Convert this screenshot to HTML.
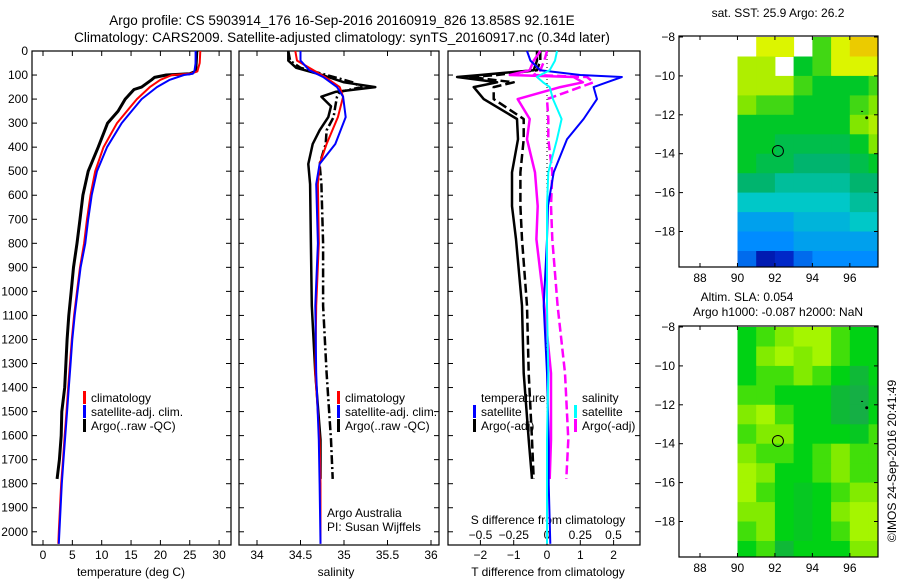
<!DOCTYPE html>
<html><head><meta charset="utf-8"><style>
html,body{margin:0;padding:0;background:#fff;}
svg{display:block;font-family:"Liberation Sans",sans-serif;}
</style></head><body>
<svg id="fig" width="900" height="580" viewBox="0 0 900 580" xmlns="http://www.w3.org/2000/svg">
<text x="342" y="25" font-size="13.5" text-anchor="middle">Argo profile: CS 5903914_176 16-Sep-2016 20160919_826 13.858S 92.161E</text>
<text x="342" y="42" font-size="13.5" text-anchor="middle">Climatology: CARS2009. Satellite-adjusted climatology: synTS_20160917.nc (0.34d later)</text>
<text x="778" y="17" font-size="12" text-anchor="middle">sat. SST: 25.9 Argo: 26.2</text>
<text x="747" y="301" font-size="12" text-anchor="middle">Altim. SLA: 0.054</text>
<text x="778" y="316" font-size="12" text-anchor="middle">Argo h1000: -0.087 h2000: NaN</text>
<text transform="translate(896,461) rotate(-90)" font-size="12" text-anchor="middle">©IMOS 24-Sep-2016 20:41:49</text>
<g id="g"></g>
</svg>
<script>
// ---- temperature panel data ----
const tClimDepth = [0,50,85,95,100,120,150,200,250,300,400,500,600,700,800,900,1000,1100,1200,1300,1400,1500,1600,1700,1800,1900,2000,2050];
const tClim = [26.8,26.7,26.3,25,22,20,18.2,16,14.3,12.6,10.3,8.9,8.1,7.5,7,6.3,5.8,5.3,4.9,4.6,4.3,4.0,3.7,3.4,3.1,2.9,2.7,2.6];
const tSat = [26,26,25.8,25.5,24,21.6,19.4,16.8,15.1,13.4,10.9,9.2,8.3,7.7,7.2,6.4,5.9,5.4,5.0,4.7,4.4,4.1,3.8,3.5,3.2,3.0,2.8,2.7];
const tArgoDepth = [0,50,85,95,100,110,120,150,160,200,250,300,400,500,600,700,800,900,1000,1100,1200,1300,1400,1500,1600,1700,1780];
const tArgo = [26.2,26.1,26,25,21,19,18.5,16.8,15.5,14,12.8,11,9.4,7.7,6.8,6.3,5.8,5.2,4.8,4.4,4.1,3.9,3.7,3.2,3.1,2.8,2.4];
// ---- salinity panel data ----
const sClimDepth = [0,40,80,108,150,190,275,387,470,554,800,1060,1340,1617,1800,2050];
const sClim = [34.44,34.46,34.65,34.78,34.95,34.99,34.93,34.8,34.72,34.7,34.71,34.68,34.67,34.72,34.73,34.73];
const sSat = [34.5,34.5,34.6,34.76,34.92,34.99,35.02,34.9,34.72,34.68,34.7,34.67,34.68,34.71,34.72,34.73];
const sArgoDepth = [0,40,70,100,130,150,170,190,230,275,330,387,470,554,800,1060,1340,1617,1780];
const sArgo = [34.36,34.36,34.45,34.75,35.0,35.36,34.9,34.74,34.85,34.82,34.72,34.64,34.59,34.61,34.62,34.63,34.67,34.73,34.73];
const sArgoQC = [34.36,34.38,34.5,34.8,35.1,35.2,34.95,34.92,34.9,34.88,34.8,34.79,34.72,34.74,34.76,34.76,34.8,34.85,34.87];
// ---- difference panel data ----
const dSatDepth = [0,40,80,100,108,130,150,200,283,367,505,645,783,1060,1340,1617,1800,2050];
const dTsat = [-0.6,-0.5,-0.2,1.0,2.25,1.8,1.4,1.5,1.1,0.6,0.2,0.03,0.0,-0.1,0.0,0.05,0.05,0.1];
const dSsat = [0.075,0.06,0.02,-0.05,-0.075,-0.03,0.02,0.045,0.11,0.075,0.01,0.0,0.0,0.0,0.01,0.0,0.0,0.0];
const dArgoDepth = [0,40,80,100,108,130,150,200,283,367,505,645,783,1060,1340,1617,1780];
const dTargo = [-0.3,-0.3,-0.4,-2.0,-2.7,-1.5,-2.2,-1.9,-0.9,-0.87,-1.05,-1.05,-0.93,-0.75,-0.7,-0.55,-0.45];
const dTargoAdj = [-0.2,-0.2,-0.3,-1.5,-2.3,-1.0,-1.6,-1.6,-0.7,-0.7,-0.8,-0.8,-0.75,-0.6,-0.55,-0.45,-0.4];
const dSargo = [-0.05,-0.1,-0.13,-0.28,0.2,0.27,0.1,-0.22,-0.13,-0.15,-0.09,-0.07,-0.08,-0.02,0.03,0.03,0.02];
const dSargoAdj = [0.0,-0.02,-0.05,-0.1,0.3,0.35,0.25,0.0,0.01,0.01,0.04,0.03,0.04,0.08,0.135,0.16,0.145];
// ---- ticks ----
const depthTicks = [0,100,200,300,400,500,600,700,800,900,1000,1100,1200,1300,1400,1500,1600,1700,1800,1900,2000];
const tempTicks = [0,5,10,15,20,25,30];
const salTicks = [34,34.5,35,35.5,36];
const dTTicks = [-2,-1,0,1,2];
const dSTicks = [-0.5,-0.25,0,0.25,0.5];
const lonTicks = [88,90,92,94,96];
const latTicks = [-8,-10,-12,-14,-16,-18];
// ---- maps (1-degree cells, lon 90..97.5, lat -8..-19.85) ----
const mapLonStarts = [90,91,92,93,94,95,96,97];
const mapLatStarts = [-8,-9,-10,-11,-12,-13,-14,-15,-16,-17,-18,-19];
const sstGrid = [
 [null,8.5,8.5,null,7,8.5,9,9],
 [8,8,null,6.5,7,8.5,8.5,8.5],
 [8,8,8,7,6.5,6.5,6.5,7],
 [7.5,7,7,6.5,6.5,6.5,7,7.5],
 [6.5,6.5,6.5,6.5,6.5,6.5,7.5,8],
 [6.5,6.5,6,6,6,6,6.5,7.5],
 [6.5,6,6,5.5,5.5,5.5,6,6.5],
 [5.5,5.5,5,5,5,5,5.5,5.5],
 [4.5,4.5,4.5,4.5,4.5,4.5,5,5],
 [3.5,3.5,3.5,4,4,4,4.5,4.5],
 [3,3,3,3.5,3.5,3.5,3.5,3.5],
 [2.5,1,1.5,2.5,3,3,3,3]];
const slaGrid = [
 [1,1.5,2,2.5,2.5,1.5,1,1],
 [1,2,2.5,2,2.5,1.5,1,1],
 [1,1.5,1.5,2,1.5,1,0.5,1],
 [1.5,1.5,1,1,1,0.5,0.3,0.8],
 [2,2.5,1.5,1,1,0.5,0.3,1],
 [1.5,2,2,1,1,1,0.8,1.5],
 [2,1.5,1.5,1,1.5,2,1.5,1.5],
 [2.5,2,1,1,1.5,2,1.5,1.5],
 [2.5,1.5,1,0.8,1,1.5,2,2],
 [2,2,1,0.8,1,2,2.5,2.5],
 [1.5,2,1,0.8,1,1.5,2.5,2.5],
 [1,1.5,0.5,1,1,1,2,2]];
const argoLon = 92.161, argoLat = -13.858;

const NS="http://www.w3.org/2000/svg";
const G=document.getElementById('g');
function mk(tag,attrs,parent){const e=document.createElementNS(NS,tag);for(const k in attrs)e.setAttribute(k,attrs[k]);(parent||G).appendChild(e);return e;}
function txt(x,y,s,size,anchor,parent){const e=mk('text',{x:x,y:y,'font-size':size,'text-anchor':anchor||'middle'},parent);e.textContent=s;return e;}

const PT=51, PB=545, DMAX=2055;
const yD=d=>PT+(PB-PT)*d/DMAX;
function panel(x0,x1,name){
  const r=mk('rect',{x:x0,y:PT,width:x1-x0,height:PB-PT,fill:'none',stroke:'#000','stroke-width':1.2});
  
  
  for(const d of depthTicks){mk('line',{x1:x0,x2:x0+5,y1:yD(d),y2:yD(d),stroke:'#000'});mk('line',{x1:x1-5,x2:x1,y1:yD(d),y2:yD(d),stroke:'#000'});}
}
function line(xs,ds,xf,color,w,dash,name){
  let p='';for(let i=0;i<xs.length;i++)p+=(i?'L':'M')+xf(xs[i]).toFixed(1)+' '+yD(ds[i]).toFixed(1);
  const e=mk('path',{d:p,fill:'none',stroke:color,'stroke-width':w,'stroke-linejoin':'round'});
  if(dash)e.setAttribute('stroke-dasharray',dash);
  
  
}
function legend(x,y,color,label,name){
  mk('rect',{x:x,y:y-11,width:3,height:13,fill:color});
  const t=txt(x+8,y,label,12,'start');
  
  
}

// Panel 1: temperature
const xT=t=>43+5.87*t;
panel(32,231,'temperature-panel');
for(const d of depthTicks){const t=txt(28,yD(d)+4,String(d),12,'end');}
for(const v of tempTicks){mk('line',{x1:xT(v),x2:xT(v),y1:PT,y2:PT+5,stroke:'#000'});mk('line',{x1:xT(v),x2:xT(v),y1:PB-5,y2:PB,stroke:'#000'});const t=txt(xT(v),559,String(v),12);}
{const t=txt(131,576,'temperature (deg C)',12);}
line(tArgo,tArgoDepth,xT,'#000',3,null,'argo-temperature-line');
line(tClim,tClimDepth,xT,'#f00',2,null,'climatology-temperature-line');
line(tSat,tClimDepth,xT,'#00f',2,null,'satellite-temperature-line');
legend(83,402,'#f00','climatology','legend-climatology');
legend(83,416,'#00f','satellite-adj. clim.','legend-satellite');
legend(83,430,'#000','Argo(..raw -QC)','legend-argo');

// Panel 2: salinity
const xS=s=>257+87*(s-34);
panel(239,439,'salinity-panel');
for(const v of salTicks){mk('line',{x1:xS(v),x2:xS(v),y1:PT,y2:PT+5,stroke:'#000'});mk('line',{x1:xS(v),x2:xS(v),y1:PB-5,y2:PB,stroke:'#000'});const t=txt(xS(v),559,String(v),12);}
{const t=txt(336,576,'salinity',12);}
line(sArgo,sArgoDepth,xS,'#000',2.5,null,'argo-salinity-line');
line(sArgoQC,sArgoDepth,xS,'#000',2.5,'9 3 2 3','argo-salinity-qc-line');
line(sClim,sClimDepth,xS,'#f00',2,null,'climatology-salinity-line');
line(sSat,sClimDepth,xS,'#00f',2,null,'satellite-salinity-line');
legend(337,402,'#f00','climatology','legend-climatology-s');
legend(337,416,'#00f','satellite-adj. clim.','legend-satellite-s');
legend(337,430,'#000','Argo(..raw -QC)','legend-argo-s');
{const t=txt(327,517,'Argo Australia',12,'start');}
{const t=txt(327,531,'PI: Susan Wijffels',12,'start');}

// Panel 3: differences
const xDT=v=>547+33.3*v;
const xDS=v=>547+133*v;
panel(448,640,'difference-panel');
for(const v of dTTicks){mk('line',{x1:xDT(v),x2:xDT(v),y1:PT,y2:PT+5,stroke:'#000'});mk('line',{x1:xDT(v),x2:xDT(v),y1:PB-5,y2:PB,stroke:'#000'});const t=txt(xDT(v),559,String(v).replace('-','\u2212'),12);}
for(const v of dSTicks){const t=txt(xDS(v),539,String(v).replace('-','\u2212'),12);}
{const t=txt(548,524,'S difference from climatology',12);}
{const t=txt(548,576,'T difference from climatology',12);}
mk('line',{x1:xDT(0),x2:xDT(0),y1:PT,y2:PB,stroke:'#000','stroke-dasharray':'1 3'});
line(dTargo,dArgoDepth,xDT,'#000',2.5,null,'argo-t-diff-line');
line(dTargoAdj,dArgoDepth,xDT,'#000',2.5,'9 4','argo-t-diff-adj-line');
line(dSargo,dArgoDepth,xDS,'#f0f',2.5,null,'argo-s-diff-line');
line(dSargoAdj,dArgoDepth,xDS,'#f0f',2.5,'9 4','argo-s-diff-adj-line');
line(dTsat,dSatDepth,xDT,'#00f',2,null,'satellite-t-diff-line');
line(dSsat,dSatDepth,xDS,'#0ff',2,null,'satellite-s-diff-line');
{const t=txt(481,402,'temperature',12,'start');}
legend(473,416,'#00f','satellite','legend-t-satellite');
legend(473,430,'#000','Argo(-adj)','legend-t-argo');
{const t=txt(582,402,'salinity',12,'start');}
legend(574,416,'#0ff','satellite','legend-s-satellite');
legend(574,430,'#f0f','Argo(-adj)','legend-s-argo');

// Maps
function sstColor(v){
  const stops=[[0,[0,0,130]],[1.5,[0,40,200]],[3,[0,140,255]],[4.5,[0,200,200]],[5.5,[0,180,110]],[6.5,[0,200,40]],[7.5,[130,230,0]],[8.5,[220,245,0]],[9.5,[250,160,0]],[10,[220,80,0]]];
  return interp(stops,v);
}
function slaColor(v){
  const stops=[[0,[30,160,90]],[1,[0,210,20]],[2,[130,235,0]],[3,[200,255,0]]];
  return interp(stops,v);
}
function interp(st,v){for(let i=1;i<st.length;i++){if(v<=st[i][0]){const a=st[i-1],b=st[i],f=(v-a[0])/(b[0]-a[0]);const c=a[1].map((x,k)=>Math.round(x+(b[1][k]-x)*f));return 'rgb('+c.join(',')+')';}}const c=st[st.length-1][1];return 'rgb('+c.join(',')+')';}
function map(top,bottom,grid,colorFn,name){
  const L=679,R=878;
  const lx=lon=>700+(lon-88)*18.73;
  const ly=lat=>top+1+(-8-lat)*((bottom-top)*0.842/10);
  const g=mk('g',{});
  
  
  for(let r=0;r<mapLatStarts.length;r++)for(let c=0;c<mapLonStarts.length;c++){
    const v=grid[r][c]; if(v===null)continue;
    const x0=lx(mapLonStarts[c]),x1=Math.min(R,lx(mapLonStarts[c]+1));
    const y0=ly(mapLatStarts[r]),y1=Math.min(bottom,ly(mapLatStarts[r]-1));
    const e=mk('rect',{x:x0.toFixed(1),y:Math.max(top,y0).toFixed(1),width:(x1-x0+0.5).toFixed(1),height:(y1-Math.max(top,y0)+0.5).toFixed(1),fill:colorFn(v)},g);
    
    
  }
  mk('rect',{x:L,y:top,width:R-L,height:bottom-top,fill:'none',stroke:'#000','stroke-width':1.2});
  for(const lon of lonTicks){mk('line',{x1:lx(lon),x2:lx(lon),y1:top,y2:top+4,stroke:'#000'});mk('line',{x1:lx(lon),x2:lx(lon),y1:bottom-4,y2:bottom,stroke:'#000'});const t=txt(lx(lon),bottom+15,String(lon),12);}
  for(const lat of latTicks){mk('line',{x1:L,x2:L+4,y1:ly(lat),y2:ly(lat),stroke:'#000'});mk('line',{x1:R-4,x2:R,y1:ly(lat),y2:ly(lat),stroke:'#000'});const t=txt(675,ly(lat)+4,String(lat).replace('-','\u2212'),12,'end');}
  const m=mk('circle',{cx:lx(argoLon),cy:ly(argoLat),r:5.5,fill:'none',stroke:'#000','stroke-width':1});
  
  
  mk('circle',{cx:lx(96.9),cy:ly(-12.15),r:1.5,fill:'#000'});
  mk('rect',{x:lx(96.6),y:ly(-11.8),width:2,height:1,fill:'#000'});
}
map(36,267,sstGrid,sstColor,'sst-map');
map(326,557,slaGrid,slaColor,'sla-map');
</script>
</body></html>
